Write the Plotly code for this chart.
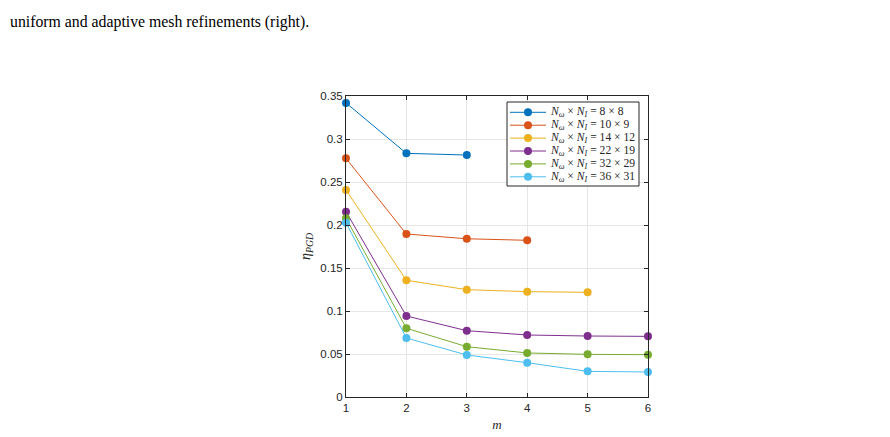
import plotly.graph_objects as go

m_values = [1, 2, 3, 4, 5, 6]
series_names = [
    "<i>N</i><sub><i>ω</i></sub> × <i>N</i><sub><i>I</i></sub> = 8 × 8",
    "<i>N</i><sub><i>ω</i></sub> × <i>N</i><sub><i>I</i></sub> = 10 × 9",
    "<i>N</i><sub><i>ω</i></sub> × <i>N</i><sub><i>I</i></sub> = 14 × 12",
    "<i>N</i><sub><i>ω</i></sub> × <i>N</i><sub><i>I</i></sub> = 22 × 19",
    "<i>N</i><sub><i>ω</i></sub> × <i>N</i><sub><i>I</i></sub> = 32 × 29",
    "<i>N</i><sub><i>ω</i></sub> × <i>N</i><sub><i>I</i></sub> = 36 × 31",
]
eta_8x8 = [0.342, 0.2833, 0.2814]
eta_10x9 = [0.2775, 0.1895, 0.184, 0.1822]
eta_14x12 = [0.2407, 0.1357, 0.1248, 0.1225, 0.1217]
eta_22x19 = [0.2155, 0.0942, 0.0771, 0.0721, 0.0709, 0.0705]
eta_32x29 = [0.2078, 0.0799, 0.0585, 0.0512, 0.0496, 0.0492]
eta_36x31 = [0.2027, 0.0686, 0.0488, 0.0399, 0.0298, 0.0291]
all_series = [eta_8x8, eta_10x9, eta_14x12, eta_22x19, eta_32x29, eta_36x31]
colors = ["#0072BD", "#D95319", "#EDB120", "#7E2F8E", "#77AC30", "#4DBEEE"]
y_ticks = [0, 0.05, 0.1, 0.15, 0.2, 0.25, 0.3, 0.35]
y_tick_labels = ["0", "0.05", "0.1", "0.15", "0.2", "0.25", "0.3", "0.35"]

# layout geometry (pixels)
W, H = 890, 437
ML, MR, MT, MB = 346, 242, 96, 40
PW, PH = W - ML - MR, H - MT - MB


def px_x(px):
    return (px - ML) / PW


def px_y(py):
    return (H - MB - py) / PH


fig = go.Figure()
for name, vals, c in zip(series_names, all_series, colors):
    fig.add_trace(go.Scatter(
        x=m_values[:len(vals)], y=vals, mode="lines+markers", name=name,
        line=dict(color=c, width=1), cliponaxis=False,
        marker=dict(color=c, size=8, line=dict(width=0)),
        showlegend=False,
    ))

axis_common = dict(
    showline=True, linecolor="#262626", linewidth=1, mirror="ticks",
    ticks="inside", ticklen=4, tickcolor="#262626",
    showgrid=True, gridcolor="#e6e6e6", gridwidth=1, zeroline=False,
    automargin=False,
    tickfont=dict(family="Liberation Sans, Arial", size=11.5, color="#262626"),
)
fig.update_xaxes(range=[1, 6], tickvals=m_values, ticktext=[str(v) for v in m_values],
                 title=dict(text="<i>m</i>", font=dict(family="Liberation Serif", size=13, color="#262626"), standoff=7),
                 **axis_common)
fig.update_yaxes(range=[0, 0.35], tickvals=y_ticks, ticktext=y_tick_labels,
                 title=dict(text="<i>η</i><sub><i>PGD</i></sub>", font=dict(family="Liberation Serif", size=14, color="#262626"), standoff=6),
                 **axis_common)

# manual legend box (compact, like MATLAB)
shapes = [dict(type="rect", xref="paper", yref="paper",
               x0=px_x(507), x1=px_x(639), y0=px_y(186), y1=px_y(102),
               fillcolor="white", line=dict(color="#262626", width=1), layer="above")]
annotations = []
for i, (name, c) in enumerate(zip(series_names, colors)):
    cy = 112.3 + i * 12.9
    shapes.append(dict(type="line", xref="paper", yref="paper",
                       x0=px_x(510), x1=px_x(546), y0=px_y(cy), y1=px_y(cy),
                       line=dict(color=c, width=1), layer="above"))
    shapes.append(dict(type="circle", xref="paper", yref="paper",
                       x0=px_x(528 - 4), x1=px_x(528 + 4), y0=px_y(cy + 4), y1=px_y(cy - 4),
                       fillcolor=c, line=dict(width=0), layer="above"))
    annotations.append(dict(text=name, xref="paper", yref="paper",
                            x=px_x(548), y=px_y(cy), xanchor="left", yanchor="middle",
                            showarrow=False,
                            font=dict(family="Liberation Serif", size=11.6, color="#262626")))

annotations.append(dict(text="uniform and adaptive mesh refinements (right).",
                        xref="paper", yref="paper", x=px_x(8), y=px_y(22),
                        xanchor="left", yanchor="middle", showarrow=False,
                        font=dict(family="Liberation Serif", size=15.8, color="black")))

fig.update_layout(
    width=W, height=H,
    margin=dict(l=ML, r=MR, t=MT, b=MB),
    paper_bgcolor="white", plot_bgcolor="white",
    showlegend=False,
    shapes=shapes,
    annotations=annotations,
)
fig.write_html("out.html")
